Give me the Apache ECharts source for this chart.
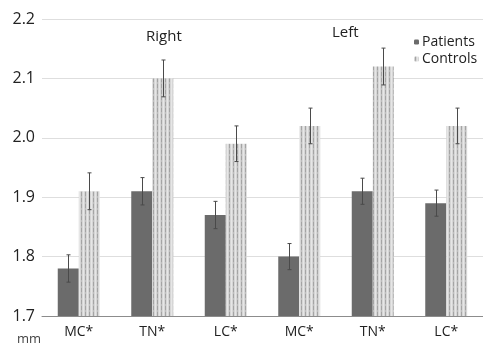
<!DOCTYPE html>
<html>
<head>
<meta charset="utf-8">
<script src="https://cdn.jsdelivr.net/npm/echarts@6/dist/echarts.min.js"></script>
<style>
  html, body { margin: 0; padding: 0; background: #fff; }
  #chart { width: 483px; height: 347px; }
</style>
</head>
<body>
<div id="chart"></div>
<script>
  var categories = ['MC*', 'TN*', 'LC*', 'MC*', 'TN*', 'LC*'];
  var patients = [1.78, 1.91, 1.87, 1.80, 1.91, 1.89];
  var controls = [1.91, 2.10, 1.99, 2.02, 2.12, 2.02];
  var patientsErr = [0.023, 0.023, 0.023, 0.022, 0.022, 0.022];
  var controlsErr = [0.031, 0.031, 0.03, 0.03, 0.031, 0.03];

  var FONT = 'Open Sans';
  var BAR_W = 21;

  // vertical striped fill for controls
  function stripes() {
    var c = document.createElement('canvas');
    c.width = 4; c.height = 6;
    var ctx = c.getContext('2d');
    ctx.fillStyle = '#d6d6d6';
    ctx.fillRect(0, 0, 4, 6);
    ctx.fillStyle = '#a4a4a4';
    ctx.fillRect(1, 0, 1, 4);
    ctx.fillStyle = '#bcbcbc';
    ctx.fillRect(1, 4, 1, 2);
    ctx.fillStyle = '#e6e6e6';
    ctx.fillRect(3, 0, 1, 6);
    return { image: c, repeat: 'repeat' };
  }
  var ctrlFill = stripes();

  function errData(vals, errs) {
    return vals.map(function (v, i) { return [i, v - errs[i], v + errs[i]]; });
  }

  function errItem(offset) {
    return function (params, api) {
      var lo = api.coord([api.value(0), api.value(1)]);
      var hi = api.coord([api.value(0), api.value(2)]);
      var x = Math.round(lo[0] + offset) + 0.5;
      var st = { stroke: '#4a4a4a', lineWidth: 1 };
      return {
        type: 'group',
        children: [
          { type: 'line', shape: { x1: x, y1: lo[1], x2: x, y2: hi[1] }, style: st },
          { type: 'line', shape: { x1: x - 2, y1: lo[1], x2: x + 2, y2: lo[1] }, style: st },
          { type: 'line', shape: { x1: x - 2, y1: hi[1], x2: x + 2, y2: hi[1] }, style: st }
        ]
      };
    };
  }

  var chart = echarts.init(document.getElementById('chart'));
  var option = {
    animation: false,
    grid: { left: 42, right: -7, top: 19, bottom: 31 },
    legend: {
      orient: 'vertical',
      left: 409,
      top: 30,
      itemWidth: 5,
      itemHeight: 5,
      itemGap: 3,
      textStyle: { fontFamily: FONT, fontSize: 14, color: '#222', padding: [0, 0, 0, -2] },
      data: ['Patients', 'Controls']
    },
    xAxis: {
      type: 'category',
      data: categories,
      axisTick: { show: false },
      axisLine: { lineStyle: { color: '#8c8c8c', width: 1 } },
      axisLabel: { fontFamily: FONT, fontSize: 14, color: '#222', margin: 9 }
    },
    yAxis: {
      type: 'value',
      min: 1.7,
      max: 2.2,
      interval: 0.1,
      axisLine: { show: false },
      axisTick: { show: false },
      splitLine: { lineStyle: { color: '#dedede' } },
      axisLabel: {
        fontFamily: FONT, fontSize: 16, color: '#222', margin: 7,
        formatter: function (v) { return v.toFixed(1); }
      }
    },
    graphic: [
      { type: 'text', left: 146, top: 29, style: { text: 'Right', font: '15px "Open Sans"', fill: '#222' } },
      { type: 'text', left: 332, top: 25, style: { text: 'Left', font: '15px "Open Sans"', fill: '#222' } },
      { type: 'text', left: 17, top: 333, style: { text: 'mm', font: '13px "Open Sans"', fill: '#444' } }
    ],
    series: [
      {
        name: 'Patients', type: 'bar', barWidth: BAR_W, barGap: '0%',
        itemStyle: { color: '#6b6b6b' },
        data: patients
      },
      {
        name: 'Controls', type: 'bar', barWidth: BAR_W, barGap: '0%',
        itemStyle: { color: ctrlFill },
        data: controls
      },
      {
        type: 'custom', renderItem: errItem(-BAR_W / 2), z: 5,
        data: errData(patients, patientsErr)
      },
      {
        type: 'custom', renderItem: errItem(BAR_W / 2), z: 5,
        data: errData(controls, controlsErr)
      }
    ]
  };
  chart.setOption(option);
</script>
</body>
</html>
